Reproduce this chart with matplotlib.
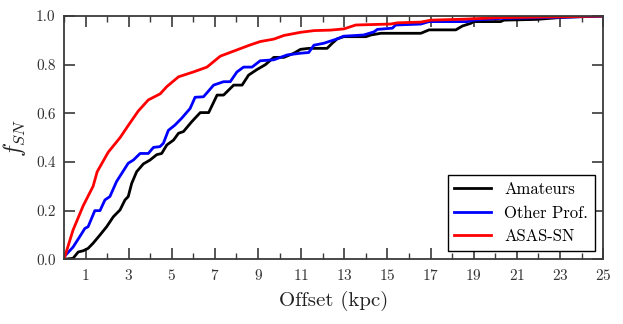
import matplotlib
matplotlib.use("Agg")
import matplotlib.pyplot as plt
from matplotlib.ticker import MultipleLocator, FuncFormatter

plt.rcParams['font.family'] = ['cmr10', 'DejaVu Serif']
plt.rcParams['mathtext.fontset'] = 'cm'
plt.rcParams['axes.formatter.use_mathtext'] = True

# ASAS-SN
asas_x = [0, 0.42, 0.89, 1.35, 1.54, 2.05, 2.6, 2.98, 3.45, 3.91, 4.46, 4.77, 5.31, 6.0, 6.63,
          7.25, 8.0, 8.6, 9.1, 9.73, 10.2, 10.97, 11.6, 12.36, 12.98, 13.53, 15.15, 15.47,
          16.55, 17.01, 18.56, 20.1, 23.2, 25]
asas_y = [0, 0.12, 0.22, 0.30, 0.36, 0.44, 0.50, 0.55, 0.61, 0.655, 0.68, 0.71, 0.75, 0.77, 0.79,
          0.835, 0.86, 0.88, 0.895, 0.905, 0.92, 0.933, 0.94, 0.942, 0.947, 0.963, 0.967, 0.972,
          0.975, 0.983, 0.987, 0.993, 0.997, 1.0]

# Other Prof.
prof_x = [0, 0.42, 0.73, 0.97, 1.12, 1.43, 1.67, 1.9, 2.13, 2.44, 2.98, 3.22, 3.53, 3.91, 4.15,
          4.45, 4.61, 4.84, 5.15, 5.46, 5.85, 6.08, 6.47, 6.94, 7.4, 7.71, 8.02, 8.33, 8.72,
          9.1, 9.73, 10.35, 10.97, 11.35, 11.59, 12.05, 12.67, 12.97, 13.9, 14.38, 14.53,
          15.23, 15.38, 16.55, 16.93, 18.7, 19.0, 20.25, 23.2, 25]
prof_y = [0.01, 0.05, 0.093, 0.127, 0.134, 0.20, 0.20, 0.244, 0.258, 0.32, 0.395, 0.408, 0.435,
          0.435, 0.46, 0.463, 0.477, 0.53, 0.552, 0.58, 0.62, 0.666, 0.668, 0.716, 0.73, 0.73,
          0.77, 0.79, 0.79, 0.816, 0.82, 0.84, 0.847, 0.85, 0.88, 0.888, 0.906, 0.917, 0.922,
          0.935, 0.945, 0.95, 0.963, 0.967, 0.977, 0.977, 0.983, 0.99, 0.995, 1.0]

# Amateurs
amat_x = [0, 0.42, 0.66, 0.89, 1.12, 1.35, 1.67, 1.98, 2.29, 2.6, 2.83, 2.98, 3.14, 3.37, 3.68,
          3.99, 4.3, 4.53, 4.77, 5.08, 5.31, 5.54, 5.93, 6.32, 6.71, 7.1, 7.4, 7.87, 8.26, 8.56,
          8.95, 9.34, 9.73, 10.2, 10.66, 10.97, 11.35, 12.2, 12.44, 12.67, 12.97, 14.0, 14.23,
          14.7, 16.55, 16.93, 18.17, 18.48, 18.87, 19.0, 20.25, 20.4, 21.9, 23.2, 25]
amat_y = [0, 0.004, 0.03, 0.035, 0.045, 0.066, 0.10, 0.134, 0.175, 0.203, 0.244, 0.258, 0.312,
          0.36, 0.392, 0.408, 0.43, 0.435, 0.47, 0.49, 0.518, 0.525, 0.566, 0.603, 0.603, 0.675,
          0.675, 0.716, 0.716, 0.757, 0.78, 0.80, 0.83, 0.83, 0.847, 0.863, 0.867, 0.867, 0.888,
          0.906, 0.915, 0.915, 0.922, 0.929, 0.929, 0.943, 0.943, 0.959, 0.97, 0.977, 0.977,
          0.983, 0.986, 0.995, 1.0]

labels = ['Amateurs', 'Other Prof.', 'ASAS-SN']
x_ticks = [1, 3, 5, 7, 9, 11, 13, 15, 17, 19, 21, 23, 25]

fig = plt.figure(figsize=(6.23, 3.24), dpi=100)
ax = fig.add_axes([0.1027, 0.1997, 0.8653, 0.7509])

ax.plot(amat_x, amat_y, color='black', lw=2.0, label=labels[0])
ax.plot(prof_x, prof_y, color='blue', lw=2.0, label=labels[1])
ax.plot(asas_x, asas_y, color='red', lw=2.0, label=labels[2])

ax.set_xlim(0, 25)
ax.set_ylim(0, 1.0)
ax.set_xticks(x_ticks)
ax.xaxis.set_minor_locator(MultipleLocator(1))
ax.yaxis.set_major_locator(MultipleLocator(0.2))
ax.yaxis.set_major_formatter(FuncFormatter(lambda v, p: f'{v:.1f}'))

sc = '#3a3a3a'
for s in ax.spines.values():
    s.set_color(sc)
    s.set_linewidth(1.3)
ax.tick_params(which='both', direction='in', top=True, right=True, color=sc,
               labelcolor='#333333', labelsize=11)
ax.tick_params(which='major', length=8, width=1.2, pad=6)
ax.tick_params(which='minor', length=4, width=1.0)

ax.set_xlabel('Offset (kpc)', fontsize=15, color='#222222', labelpad=6)
ax.set_ylabel(r'$f_{SN}$', fontsize=17, color='#222222', labelpad=6)

leg = ax.legend(loc='lower right', fontsize=12, fancybox=False, framealpha=1,
                edgecolor='black', handlelength=2.2, borderaxespad=0.5)
leg.get_frame().set_linewidth(1.0)

fig.savefig('out.png', dpi=100)
